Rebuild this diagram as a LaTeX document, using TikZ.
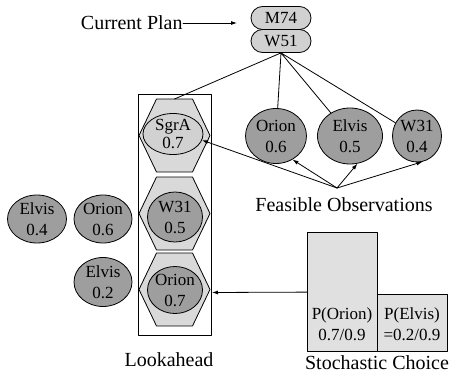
\documentclass[tikz,border=0pt]{standalone}
\usepackage{fontspec}
\setmainfont{Liberation Serif}
\usetikzlibrary{shapes.geometric,shapes.misc,arrows.meta}
\definecolor{pillgray}{gray}{0.82}
\definecolor{obsgray}{gray}{0.62}
\definecolor{hexgray}{gray}{0.85}
\definecolor{boxgray}{gray}{0.88}
\newcommand{\twoline}[2]{\vbox to 0pt{\vss\hbox to 0pt{\hss#1\hss}\hbox to 0pt{\hss#2\hss}\vss}}
\tikzset{
  lbl/.style={font=\fontsize{20}{22}\selectfont,inner sep=0pt},
  pill/.style={rounded rectangle,draw,fill=pillgray,minimum width=60pt,minimum height=23pt,inner sep=0pt},
  obs/.style={ellipse,draw,fill=obsgray,inner sep=0pt},
  hexa/.style={draw,fill=hexgray},
  choice/.style={draw,fill=boxgray}
}
\begin{document}
\begin{tikzpicture}[line cap=round,line join=round,x=1pt,y=1pt,line width=.8pt,
    font=\fontsize{17}{21}\selectfont,>={Latex[length=6pt,width=4pt]}]
  \useasboundingbox (0,0) rectangle (450,376);
  % current plan
  \node[pill] (m74) at (281,358) {M74};
  \node[pill] (w51) at (281,335) {W51};
  \node[lbl,anchor=east] (cp) at (183,353) {Current Plan};
  \coordinate (cpend) at (237,353);
  \draw[->] (cp) -- (cpend);
  % lookahead
  \draw (138,41) rectangle (211,282);
  \foreach \c/\y in {sg/240.5,wt/162.5,or/86.5}{
    \draw[hexa] (139,\y) -- (156.5,\y+36.5) -- (192.5,\y+36.5) -- (210,\y) -- (192.5,\y-36.5) -- (156.5,\y-36.5) -- cycle;
    \coordinate (\c top) at (174.5,\y+36.5);
  }
  \coordinate (hexR) at (212,83.5);
  \node[obs,fill=pillgray,minimum width=60pt,minimum height=41pt,font=\fontsize{17}{18}\selectfont] (sgra) at (173,242) {\twoline{SgrA}{0.7}};
  \node[obs,minimum width=55pt,minimum height=50pt] (w31) at (175,159) {\twoline{W31}{0.5}};
  \node[obs,minimum width=55pt,minimum height=47pt] (or7) at (175,86) {\twoline{Orion}{0.7}};
  \node[lbl] (look) at (169,16) {Lookahead};
  % left alternatives
  \node[obs,minimum width=59pt,minimum height=48pt] (el4) at (37,157) {\twoline{Elvis}{0.4}};
  \node[obs,minimum width=58pt,minimum height=48pt] (or6) at (103,157) {\twoline{Orion}{0.6}};
  \node[obs,minimum width=58pt,minimum height=49pt] (el2) at (103,94) {\twoline{Elvis}{0.2}};
  % feasible observations
  \node[obs,minimum width=61pt,minimum height=55pt] (oobs) at (276,240) {\twoline{Orion}{0.6}};
  \node[obs,minimum width=65pt,minimum height=56pt] (eobs) at (350,240) {\twoline{Elvis}{0.5}};
  \node[obs,minimum width=49pt,minimum height=52pt] (wobs) at (417,240) {\twoline{W31}{0.4}};
  \draw (w51.south) -- (sgtop) (w51.south) -- (oobs) (w51.south) -- (eobs) (w51.south) -- (wobs);
  \node[lbl] (feas) at (344,171) {Feasible Observations};
  \coordinate (fo) at (337,188);
  \draw[->] (fo) -- (oobs.-55);
  \draw[->] (fo) -- (eobs.-75);
  \draw[->] (fo) -- (wobs.-78);
  \draw[->] (fo) -- (sgra.-12);
  % stochastic choice
  \node[choice,anchor=south west,minimum width=70pt,minimum height=119pt] (porion) at (307,24) {};
  \node[choice,anchor=south west,minimum width=70pt,minimum height=57pt] (pelvis) at (377,24) {};
  \node (torion) at (342,51.5) {\twoline{P(Orion)}{0.7/0.9}};
  \node (telvis) at (412,51.5) {\twoline{P(Elvis)}{=0.2/0.9}};
  \node[lbl] (stoch) at (377,13) {Stochastic Choice};
  \draw[->] (porion.west) -- (hexR);
\end{tikzpicture}
\end{document}
